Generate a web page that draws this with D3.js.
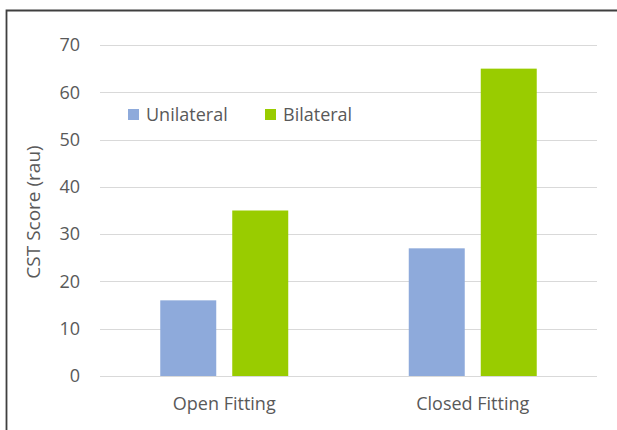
<!DOCTYPE html>
<html>
<head>
<meta charset="utf-8">
<script src="https://cdn.jsdelivr.net/npm/d3@7"></script>
<style>
  html, body { margin: 0; padding: 0; background: #fff; overflow: hidden; }
  svg { display: block; font-family: "Open Sans", "Noto Sans", sans-serif; }
</style>
</head>
<body>
<svg id="chart" width="617" height="430"></svg>
<script>
// chart data
const categories = ["Open Fitting", "Closed Fitting"];
const seriesNames = ["Unilateral", "Bilateral"];
const unilateral = [16, 27];
const bilateral = [35, 65];
const yTicks = [0, 10, 20, 30, 40, 50, 60, 70];
const colors = ["#8eaadb", "#99cc00"];

(function () {
  const svg = d3.select("#chart");

  // outer frame: only top and left edges fall inside the picture
  svg.append("path")
    .attr("d", "M6.5,430 L6.5,10.5 L617,10.5")
    .attr("fill", "none").attr("stroke", "#3f3f3f").attr("stroke-width", 1.8);

  const plot = { left: 100, right: 597, top: 45, bottom: 376 };

  const y = d3.scaleLinear().domain([0, 70]).range([plot.bottom, plot.top]);
  const x0 = d3.scaleBand().domain(categories).range([plot.left, plot.right]);
  const x1 = d3.scaleBand().domain(seriesNames)
    .range([0, x0.bandwidth()])
    .paddingInner(16 / 72).paddingOuter(0.837);

  // gridlines
  svg.append("g")
    .selectAll("line")
    .data(yTicks)
    .join("line")
    .attr("x1", plot.left).attr("x2", plot.right)
    .attr("y1", d => Math.round(y(d)) + 0.5).attr("y2", d => Math.round(y(d)) + 0.5)
    .attr("stroke", "#d9d9d9").attr("stroke-width", 1);

  // y axis labels
  const yAxis = d3.axisLeft(y).tickValues(yTicks).tickSize(0).tickPadding(0);
  const gy = svg.append("g").attr("transform", "translate(80,0)").call(yAxis);
  gy.select(".domain").remove();
  gy.selectAll("text")
    .attr("fill", "#595959").attr("font-size", 18)
    .attr("font-family", "'Open Sans', sans-serif");

  // x axis labels
  const xAxis = d3.axisBottom(x0).tickSize(0).tickPadding(0);
  const gx = svg.append("g").attr("transform", "translate(0,397)").call(xAxis);
  gx.select(".domain").remove();
  gx.selectAll("text")
    .attr("fill", "#595959").attr("font-size", 18)
    .attr("font-family", "'Open Sans', sans-serif");

  // bars
  const rows = categories.map((c, i) => ({ cat: c, values: [unilateral[i], bilateral[i]] }));
  svg.append("g")
    .selectAll("g")
    .data(rows)
    .join("g")
    .attr("transform", d => `translate(${x0(d.cat)},0)`)
    .selectAll("rect")
    .data(d => d.values.map((v, j) => ({ key: seriesNames[j], v, j })))
    .join("rect")
    .attr("x", d => x1(d.key))
    .attr("width", x1.bandwidth())
    .attr("y", d => y(d.v))
    .attr("height", d => y(0) - y(d.v))
    .attr("fill", d => colors[d.j]);

  // y axis title
  svg.append("text")
    .attr("transform", "translate(40,212) rotate(-90)")
    .attr("text-anchor", "middle")
    .attr("fill", "#595959").attr("font-size", 19)
    .text("CST Score (rau)");

  // legend
  const legendX = [128, 265];
  const legend = svg.append("g")
    .selectAll("g")
    .data(seriesNames)
    .join("g")
    .attr("transform", (d, i) => `translate(${legendX[i]},109)`);
  legend.append("rect")
    .attr("width", 11).attr("height", 11)
    .attr("fill", (d, i) => colors[i]);
  legend.append("text")
    .attr("x", 18).attr("y", 12)
    .attr("fill", "#595959").attr("font-size", 18)
    .text(d => d);
})();
</script>
</body>
</html>
